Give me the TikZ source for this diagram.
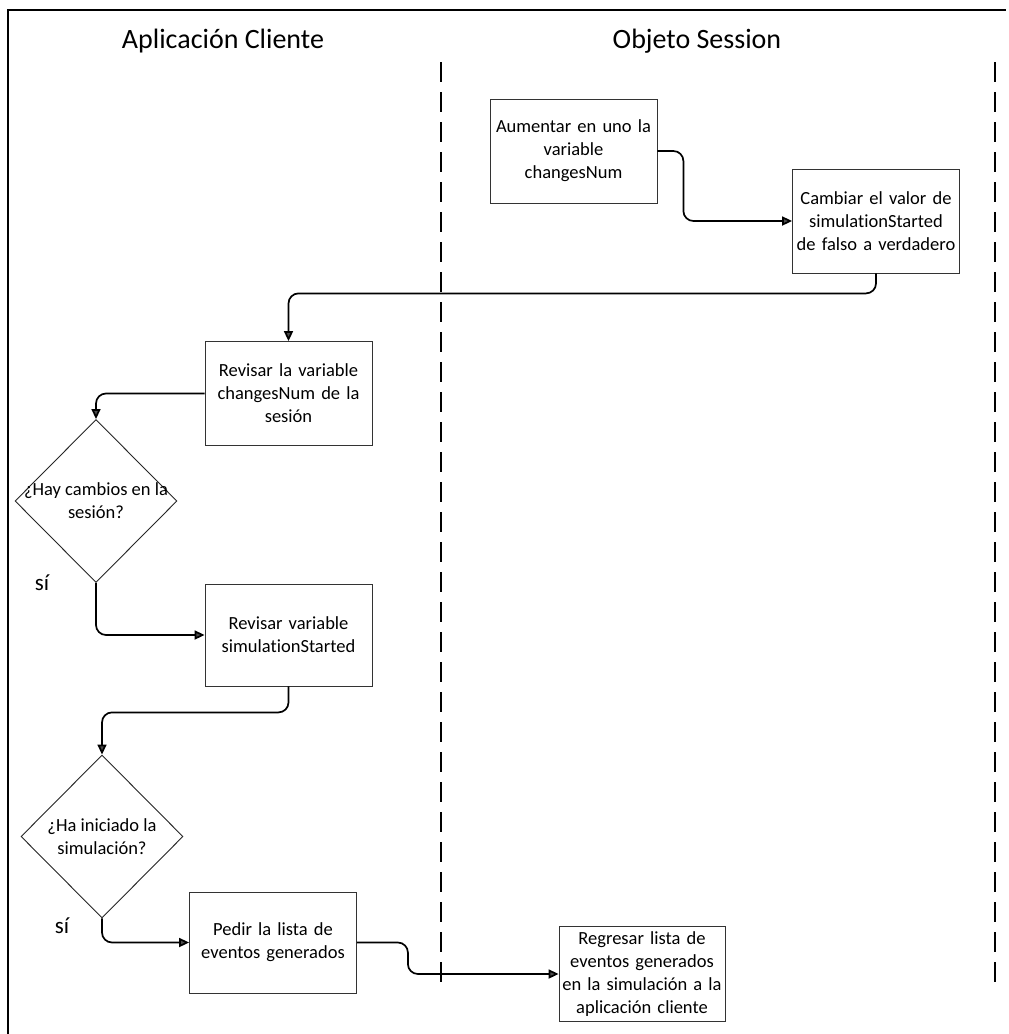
\documentclass[tikz,border=0pt]{standalone}
\usepackage{fontspec}
\setmainfont{Carlito}[Ligatures={NoCommon}]
\usetikzlibrary{shapes.geometric,arrows.meta}
\begin{document}
\begin{tikzpicture}[x=1pt,y=-1pt,
  every node/.style={font=\fontsize{18.5}{23}\selectfont},
  stepbox/.style={draw=black!80, line width=0.8pt, inner sep=0pt, align=center,
    minimum width=167pt, minimum height=104pt, text width=162pt},
  decision/.style={draw=black!85, line width=0.9pt, shape=diamond, inner sep=0pt,
    minimum width=162pt, minimum height=163pt},
  question/.style={align=center, inner sep=0pt},
  title/.style={font=\fontsize{28}{31}\selectfont},
  answer/.style={font=\fontsize{23}{26}\selectfont},
  conn/.style={line width=1.7pt, rounded corners=10pt,
    -{Triangle[length=10pt,width=9pt,fill=black!70]}},
  lanesep/.style={line width=2.2pt, dash pattern=on 20pt off 10pt},
]
\useasboundingbox (0,0) rectangle (1009,1034);
\fill[white] (0,0) rectangle (1009,1034);

% outer frame: top rule and left rule
\draw[line width=2.8pt] (8,1034) -- (8,10) -- (1006,10);

% lane titles
\node[title] (lane1) at (223,41) {Aplicación Cliente};
\node[title] (lane2) at (697,41) {Objeto Session};

% lane separators
\draw[lanesep] (441,62) -- (441,992);
\draw[lanesep] (995,62) -- (995,992);

% Objeto Session lane
\node[stepbox] (b1) at (573.5,151) {Aumentar en uno la\\variable\\changesNum};
\node[stepbox] (b2) at (876,221) {Cambiar el valor de\\simulationStarted\\de falso a verdadero};

% Aplicación Cliente lane
\node[stepbox] (b3) at (288.5,393.5) {Revisar la variable\\changesNum de la\\sesión};
\node[decision] (d1) at (96,501) {};
\node[question] (q1) at (96,501) {¿Hay cambios en la\\sesión?};
\node[answer] (s1) at (42,583) {sí};
\node[stepbox, minimum height=102pt] (b4) at (288.5,635) {Revisar variable\\simulationStarted};
\node[decision] (d2) at (102,836.5) {};
\node[question] (q2) at (102,837) {¿Ha iniciado la\\simulación?};
\node[answer] (s2) at (62,926) {sí};
\node[stepbox, minimum height=101pt] (b5) at (273,942.5) {Pedir la lista de\\eventos generados};
\node[stepbox, minimum width=166pt, minimum height=95pt] (b6) at (642,974) {Regresar lista de\\eventos generados\\en la simulación a la\\aplicación cliente};

% flow
\draw[conn] (b1.east) -- ++(26,0) |- (b2.west);
\draw[conn] (b2.south) -- ++(0,20) -| (b3.north);
\draw[conn] (b3.west) -| (d1.north);
\draw[conn] (d1.south) |- (b4.west);
\draw[conn] (b4.south) -- ++(0,26) -| (d2.north);
\draw[conn] (d2.south) |- (b5.west);
\draw[conn] (b5.east) -- ++(51,0) |- (b6.west);
\end{tikzpicture}
\end{document}
